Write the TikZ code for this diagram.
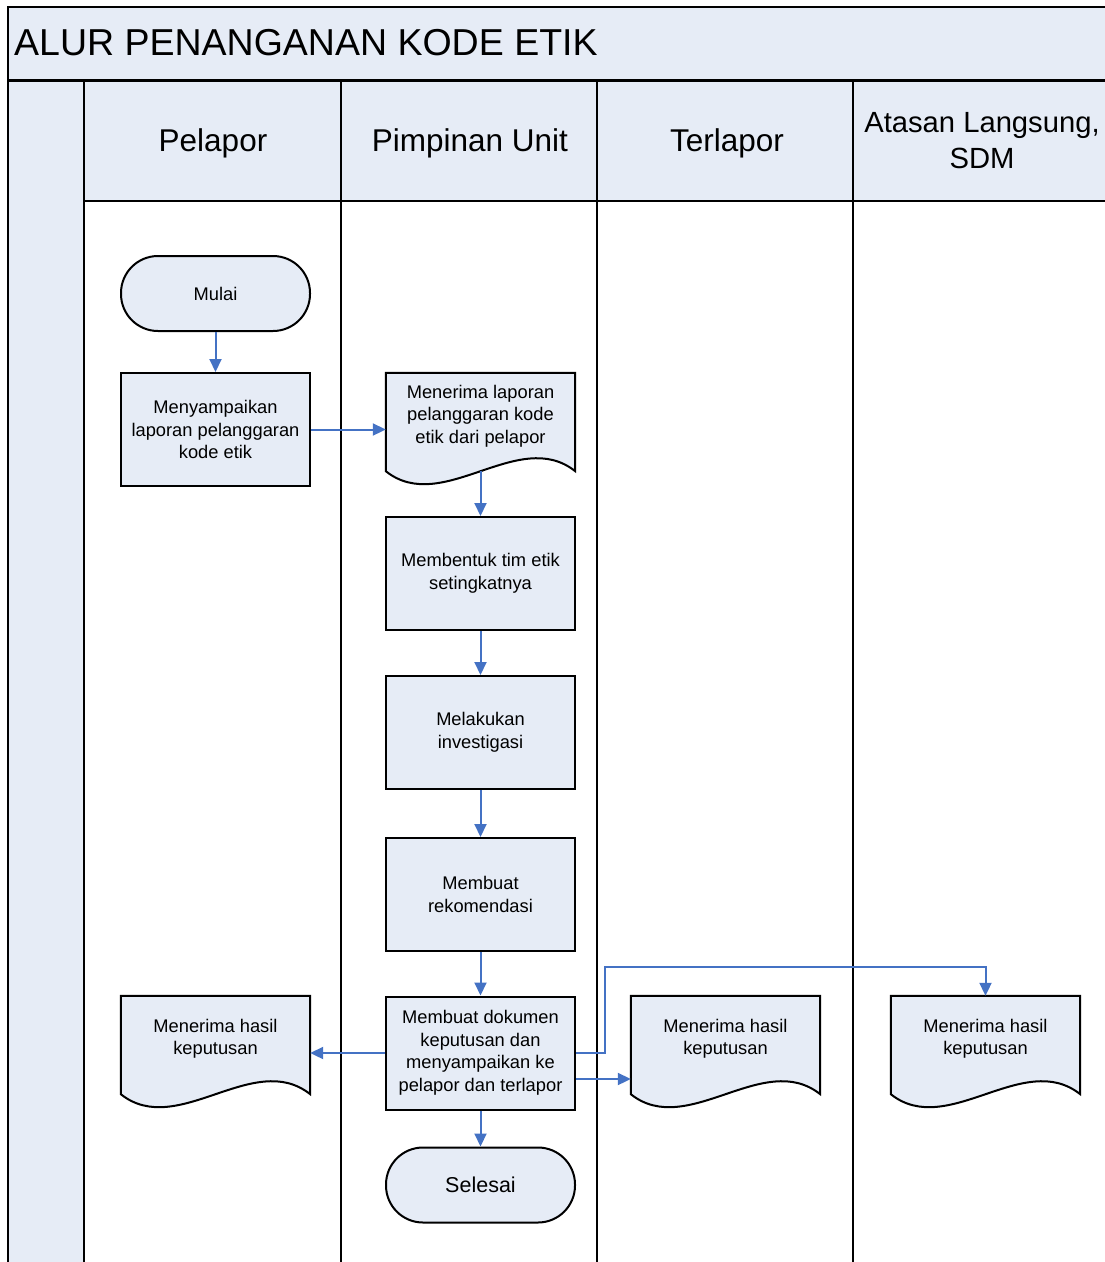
\documentclass[tikz,border=0pt]{standalone}
\usepackage{fontspec}
\setmainfont{Liberation Sans}
\usetikzlibrary{arrows.meta,calc,backgrounds}
\definecolor{lb}{RGB}{230,236,246}
\definecolor{ab}{RGB}{68,114,196}
\newcommand\docshp[1]{\begin{scope}[on background layer]\draw[line width=2, fill=lb] (#1.north west) -- ($(#1.south west)+(0,12)$) .. controls +(56.7,45) and +(-56.7,-45) .. ($(#1.south east)+(0,12)$) -- (#1.north east) -- cycle;\end{scope}}
\begin{document}
\begin{tikzpicture}[x=1pt,y=-1pt,
  proc/.style={draw, line width=2, fill=lb, minimum width=189, minimum height=113, align=center, inner sep=0, font=\fontsize{18.3}{22.5}\selectfont},
  term/.style={draw, line width=2, fill=lb, minimum width=189, minimum height=75, rounded corners=37, align=center, inner sep=0, font=\fontsize{18.3}{22.5}\selectfont},
  docnode/.style={minimum width=189, minimum height=86, align=center, inner sep=0, font=\fontsize{18.3}{22.5}\selectfont},
  head/.style={align=center, font=\fontsize{31.5}{36}\selectfont},
  lane/.style={line width=2},
  arr/.style={draw=ab, line width=2, -{Triangle[length=13,width=12]}}]
\useasboundingbox (0,0) rectangle (1105,1262);
% frame and lanes
\fill[lb] (8,7) rectangle (1110,80);
\fill[lb] (8,80) rectangle (84,1270);
\fill[lb] (84,82) rectangle (1110,201);
\draw[line width=2.2] (1110,7) -- (8,7) -- (8,1270);
\draw[line width=3] (8,80) -- (1110,80);
\foreach \xx in {84,341,597,853} \draw[lane] (\xx,80) -- (\xx,1270);
\draw[lane] (84,201) -- (1110,201);
\node[anchor=west, inner sep=0, font=\fontsize{37.5}{40}\selectfont] (title) at (14,43) {ALUR PENANGANAN KODE ETIK};
\node[head] (h1) at (213,143) {Pelapor};
\node[head] (h2) at (470,143) {Pimpinan Unit};
\node[head] (h3) at (727,143) {Terlapor};
\node[head, font=\fontsize{29.2}{36}\selectfont] (h4) at (982,141) {Atasan Langsung,\\SDM};
% nodes
\node[term] (mulai) at (215.5,293.5) {Mulai};
\node[proc] (m1) at (215.5,429.5) {Menyampaikan\\laporan pelanggaran\\kode etik};
\node[docnode] (d1) at (480.5,416) {Menerima laporan\\pelanggaran kode\\etik dari pelapor};
\docshp{d1}
\node[proc] (p2) at (480.5,573.5) {Membentuk tim etik\\setingkatnya};
\node[proc] (p3) at (480.5,732.5) {Melakukan\\investigasi};
\node[proc] (p4) at (480.5,894.5) {Membuat\\rekomendasi};
\node[proc] (p5) at (480.5,1053) {Membuat dokumen\\keputusan dan\\menyampaikan ke\\pelapor dan terlapor};
\node[term, font=\fontsize{21.5}{25}\selectfont] (sel) at (480.5,1185) {Selesai};
\node[docnode] (dL) at (215.5,1039) {Menerima hasil\\keputusan};
\docshp{dL}
\node[docnode] (dT) at (725.5,1039) {Menerima hasil\\keputusan};
\docshp{dT}
\node[docnode] (dA) at (985.5,1039) {Menerima hasil\\keputusan};
\docshp{dA}
% connectors
\draw[arr] (mulai) -- (m1);
\draw[arr] (m1.east) -- (m1.east -| d1.west);
\draw[arr] ($(d1.south)+(0,12)$) -- (p2);
\draw[arr] (p2) -- (p3);
\draw[arr] (p3) -- (p4);
\draw[arr] (p4) -- (p5);
\draw[arr] (p5) -- (sel);
\draw[arr] (p5.west) -- (p5.west -| dL.east);
\draw[arr] ($(p5.east)+(0,26)$) -- ($(p5.east -| dT.west)+(0,26)$);
\draw[arr] (p5.east) -- ++(29,0) |- ($(dA.north)+(0,-29)$) -- (dA.north);
\end{tikzpicture}
\end{document}
